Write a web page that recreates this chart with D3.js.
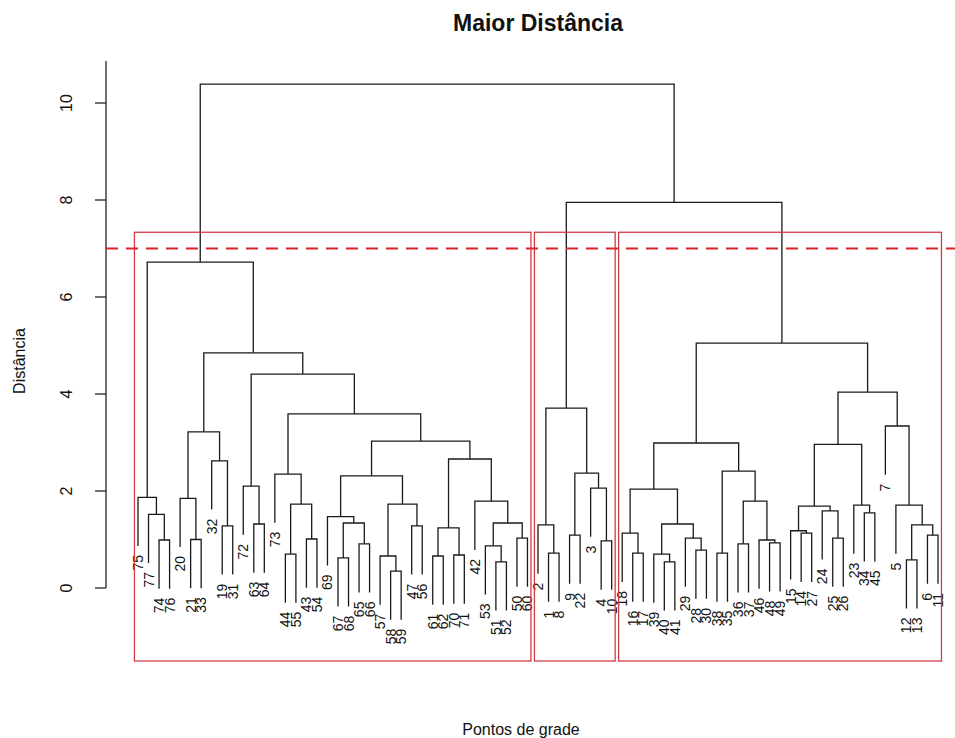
<!DOCTYPE html>
<html><head><meta charset="utf-8">
<script src="https://cdn.jsdelivr.net/npm/d3@7"></script>
<style>body{margin:0;background:#fff} svg{display:block}</style>
</head><body>
<script>
// hclust-style merge list: [left, right, height]; negative = leaf label, positive = earlier merge (1-based)
const merges = [
  [-74,-76,0.99],[-77,1,1.52],[-75,2,1.87],[-21,-33,1.00],[-20,4,1.85],
  [-19,-31,1.28],[-32,6,2.62],[5,7,3.22],[-63,-64,1.32],[-72,9,2.10],
  [-44,-55,0.70],[-43,-54,1.01],[11,12,1.73],[-73,13,2.35],[-67,-68,0.62],
  [-65,-66,0.91],[15,16,1.34],[-69,17,1.47],[-58,-59,0.35],[-57,19,0.66],
  [-47,-56,1.28],[20,21,1.73],[18,22,2.31],[-61,-62,0.66],[-70,-71,0.68],
  [24,25,1.24],[-51,-52,0.54],[-53,27,0.87],[-50,-60,1.03],[28,29,1.34],
  [-42,30,1.79],[26,31,2.66],[23,32,3.03],[14,33,3.59],[10,34,4.41],
  [8,35,4.85],[3,36,6.72],
  [-1,-8,0.72],[-2,38,1.30],[-9,-22,1.09],[-4,-10,0.97],[-3,41,2.06],
  [40,42,2.37],[39,43,3.71],
  [-16,-17,0.72],[-18,45,1.13],[-40,-41,0.54],[-39,47,0.70],[-28,-30,0.78],
  [-29,49,1.03],[48,50,1.32],[46,51,2.04],[-38,-35,0.72],[-36,-37,0.91],
  [-48,-49,0.93],[-46,55,0.99],[54,56,1.79],[53,57,2.41],[52,58,2.99],
  [-14,-27,1.13],[-15,60,1.18],[-25,-26,1.03],[-24,62,1.59],[61,63,1.69],
  [-34,-45,1.55],[-23,65,1.71],[64,66,2.96],[-12,-13,0.58],[-6,-11,1.09],
  [68,69,1.30],[-5,70,1.71],[-7,71,3.34],[67,72,4.04],[59,73,5.05],
  [44,74,7.95],[37,75,10.39]
];
const yTicks = [0, 2, 4, 6, 8, 10];
const cutLine = 7;
const nClusters = 3;
const titleText = "Maior Distância";
const xLabelText = "Pontos de grade";
const yLabelText = "Distância";

const W = 955, H = 738;
const font = "'Liberation Sans', Arial, Helvetica, sans-serif";
const svg = d3.select("body").append("svg").attr("width", W).attr("height", H);

const heights = merges.map(m => m[2]);
const hMax = d3.max(heights), hMin = d3.min(heights);
const hang = 0.1 * (hMax - hMin);
const nLeaves = merges.length + 1;

// build tree
const nodes = merges.map((m, i) => ({id: i + 1, height: m[2], kids: [m[0], m[1]]}));
function child(ref) { return ref < 0 ? {leaf: true, label: String(-ref)} : nodes[ref - 1]; }
nodes.forEach(n => { n.children = n.kids.map(child); });
const root = nodes[nodes.length - 1];

// leaf order
const leaves = [];
(function walk(n) { if (n.leaf) { leaves.push(n); return; } n.children.forEach(walk); })(root);
leaves.forEach((l, i) => { l.pos = i + 1; });

const x = d3.scaleLinear().domain([1, nLeaves]).range([138, 938]);
const y = d3.scaleLinear().domain([0, 10]).range([588, 103]);
const usrLeft = 1 - 0.04 * (nLeaves - 1), usrRight = nLeaves + 0.04 * (nLeaves - 1);
const plotTop = 61, plotBottom = 661;

function setX(n) { if (n.leaf) return n.pos; n.pos = (setX(n.children[0]) + setX(n.children[1])) / 2; return n.pos; }
setX(root);

const g = svg.append("g");
function draw(n) {
  if (n.leaf) return;
  const [a, b] = n.children;
  const ya = a.leaf ? n.height - hang : a.height;
  const yb = b.leaf ? n.height - hang : b.height;
  g.append("path")
    .attr("d", `M${x(a.pos)},${y(ya)}V${y(n.height)}H${x(b.pos)}V${y(yb)}`)
    .attr("fill", "none").attr("stroke", "#1a1a1a").attr("stroke-width", 1.3);
  [a, b].forEach(c => {
    if (c.leaf) {
      const yy = y(n.height - hang) + 9;
      g.append("text").attr("transform", `translate(${x(c.pos)},${yy}) rotate(-90)`)
        .attr("text-anchor", "end").attr("dominant-baseline", "central")
        .attr("font-family", font).attr("font-size", 14).attr("fill", "#111")
        .text(c.label);
    } else draw(c);
  });
}
draw(root);

// y axis
const ax = svg.append("g").attr("font-family", font);
ax.append("line").attr("x1", x(usrLeft)).attr("x2", x(usrLeft)).attr("y1", y(0)).attr("y2", plotTop)
  .attr("stroke", "#222").attr("stroke-width", 1.3);
yTicks.forEach(t => {
  ax.append("line").attr("x1", x(usrLeft) - 11).attr("x2", x(usrLeft)).attr("y1", y(t)).attr("y2", y(t))
    .attr("stroke", "#222").attr("stroke-width", 1.3);
  ax.append("text").attr("transform", `translate(72,${y(t)}) rotate(-90)`)
    .attr("text-anchor", "middle").attr("font-size", 16).attr("fill", "#111").text(t);
});

// cluster rectangles (rect.hclust style)
const sortedH = heights.slice().sort((p, q) => q - p);
const boxTop = (sortedH[nClusters - 2] + sortedH[nClusters - 1]) / 2;
const cutH = sortedH[nClusters - 2];
const groups = [];
(function cut(n) { if (!n.leaf && n.height >= cutH) { n.children.forEach(cut); } else groups.push(n); })(root);
function leafRange(n) { if (n.leaf) return [n.pos, n.pos]; const r1 = leafRange(n.children[0]), r2 = leafRange(n.children[1]); return [Math.min(r1[0], r2[0]), Math.max(r1[1], r2[1])]; }
groups.forEach(gr => {
  const [lo, hi] = leafRange(gr);
  svg.append("rect").attr("x", x(lo - 0.34)).attr("width", x(hi + 0.33) - x(lo - 0.34))
    .attr("y", y(boxTop)).attr("height", plotBottom - y(boxTop))
    .attr("fill", "none").attr("stroke", "#d23a44").attr("stroke-width", 1.3);
});

// cut line
svg.append("line").attr("x1", x(usrLeft)).attr("x2", x(usrRight)).attr("y1", y(cutLine)).attr("y2", y(cutLine))
  .attr("stroke", "#d8262c").attr("stroke-width", 2).attr("stroke-dasharray", "12,8");

// titles
const cx = (x(usrLeft) + x(usrRight)) / 2;
svg.append("text").attr("x", cx).attr("y", 31).attr("text-anchor", "middle")
  .attr("font-family", font).attr("font-weight", "bold").attr("font-size", 23).attr("fill", "#111").text(titleText);
svg.append("text").attr("x", 521).attr("y", 735).attr("text-anchor", "middle")
  .attr("font-family", font).attr("font-size", 16).attr("fill", "#111").text(xLabelText);
svg.append("text").attr("transform", `translate(25,${(plotTop + plotBottom) / 2}) rotate(-90)`)
  .attr("text-anchor", "middle").attr("font-family", font).attr("font-size", 16).attr("fill", "#111").text(yLabelText);
</script>
</body></html>
